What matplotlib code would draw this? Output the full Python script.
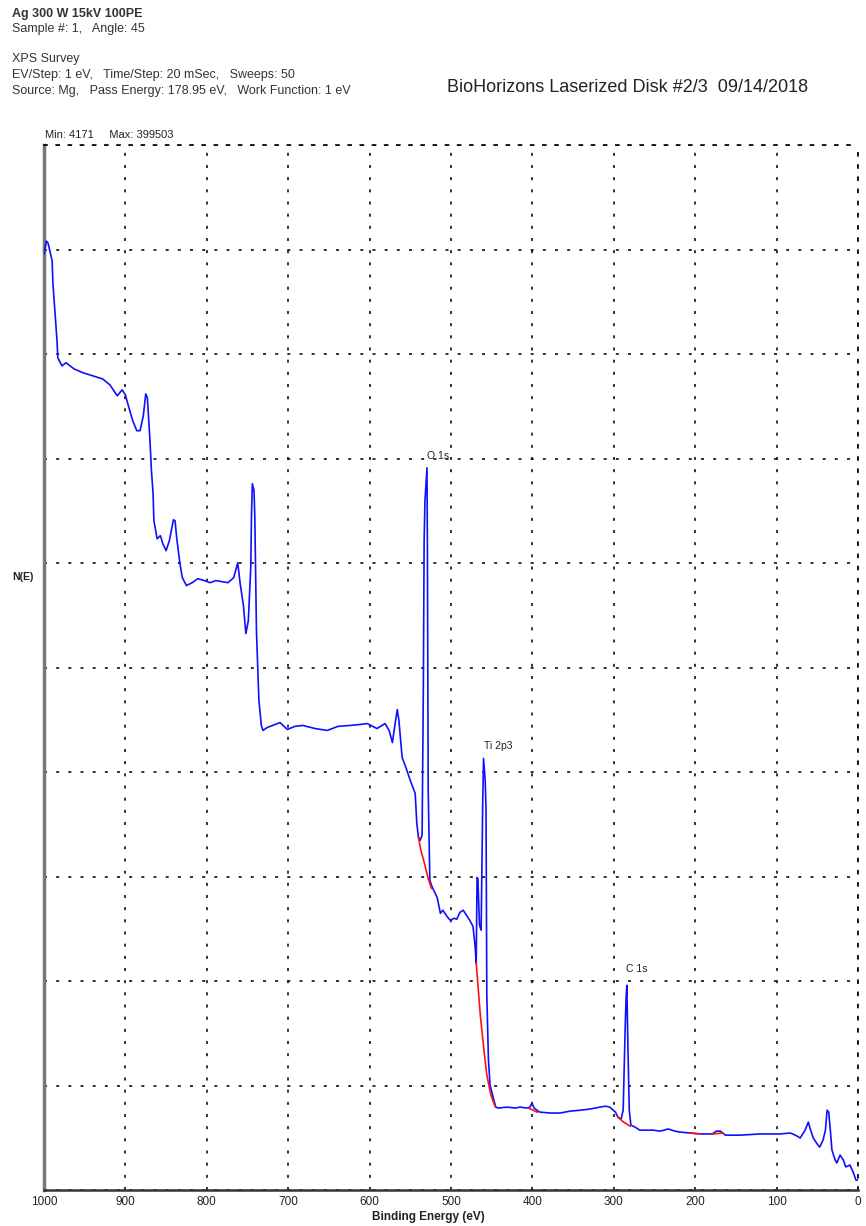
import matplotlib
matplotlib.use('Agg')
import numpy as np
import matplotlib.pyplot as plt

# survey spectrum (binding energy eV, counts)
energy = [1000, 997, 995, 990, 989, 986, 984, 983, 978, 973, 968, 963, 952, 940, 928, 919,
          910, 904, 900, 897, 891, 886, 882, 878, 875, 873, 870, 868, 866, 865, 861, 857,
          854, 850, 846, 841, 839, 837, 833, 830, 825, 818, 811, 803, 796, 789, 781, 774,
          767, 762, 759, 755, 752, 749, 746, 745, 744, 742, 741, 739, 736, 733, 731, 726,
          716, 710, 701, 692, 682, 667, 652, 639, 624, 612, 603, 591, 581, 576, 572, 569,
          566, 564, 560, 555, 550, 544, 542, 540, 538, 535.5, 534, 533, 532, 529.5, 529, 528,
          526, 523, 517, 513, 510, 505, 501, 496, 493, 489, 485, 481, 477, 473, 470.5, 469,
          468, 467, 465, 463, 461, 460, 458, 457, 456, 454, 452, 448, 445, 442, 431, 421,
          415, 407, 403, 400.5, 398, 391, 378, 366, 354, 341, 329, 317, 310, 305, 298, 295,
          291, 288.5, 286, 285, 284, 282.5, 281, 279, 274, 268, 258, 252, 243, 233, 225, 219,
          206, 194, 179, 174, 169, 163, 145, 120, 96, 83, 77, 71, 65, 61, 59, 55,
          50, 47, 43, 40, 38, 36, 34, 32, 28, 26, 22, 18, 15, 10, 6, 2.5, 0.5]
counts = [394100, 399500, 398700, 391200, 381500, 367200, 357500, 350400, 347000, 348300, 347000, 345700, 344100, 342800, 341500, 339000,
          334400, 336900, 334800, 331000, 323900, 319700, 319700, 326000, 335200, 333500, 316700, 302800, 293200, 281800, 274200, 275500,
          272100, 269200, 273400, 282200, 281800, 274600, 263700, 257800, 254500, 255700, 257400, 256600, 255700, 256600, 256100, 255700,
          257800, 264100, 255300, 246100, 234300, 239700, 262000, 286000, 297400, 294400, 283100, 235500, 206100, 195600, 193500, 194700,
          196000, 196800, 193900, 195200, 195600, 194300, 193500, 195200, 195600, 196000, 196400, 194300, 196400, 193500, 188400, 195600,
          202300, 197700, 182100, 177500, 172400, 167000, 154400, 148500, 147200, 149300, 210300, 273400, 290200, 304100, 271300, 168200,
          130400, 127400, 123200, 116500, 117800, 115200, 113600, 114400, 114000, 116900, 117800, 115700, 113600, 111000, 103000, 95500,
          131600, 131200, 111500, 109400, 164000, 181700, 172400, 161100, 82000, 54700, 44200, 38700, 34900, 34500, 34900, 34500,
          34900, 34500, 34900, 36600, 34500, 32800, 32400, 32400, 33200, 33600, 34100, 34900, 35300, 34900, 32800, 30700,
          29900, 33600, 68600, 79900, 86200, 57600, 33600, 27300, 26500, 25200, 25200, 25200, 24800, 25700, 24800, 24400,
          24000, 23600, 23600, 24800, 24800, 23100, 23100, 23600, 23600, 24000, 23100, 21900, 25200, 28600, 26100, 21900,
          19300, 18100, 21000, 25200, 33600, 32800, 25200, 16800, 12600, 11400, 14700, 12600, 9700, 10500, 7600, 4200, 4171]

# background (red) segments under the peaks
bg_energy = [[540, 537, 533, 528, 524],
             [469, 464, 459.5, 456, 451, 446],
             [405, 394],
             [295, 288, 280],
             [206, 194],
             [179, 166]]
bg_counts = [[148500, 143000, 138000, 131200, 127000],
             [95500, 73600, 58900, 48400, 40000, 35300],
             [34500, 32800],
             [30700, 28600, 26900],
             [24000, 23600],
             [23600, 24000]]

peak_names = ["O 1s", "Ti 2p3", "C 1s"]
peak_energy = [529.5, 459.5, 285]
peak_label_y = [309000, 187000, 93000]

header = ["Ag 300 W 15kV 100PE",
          "Sample #: 1,   Angle: 45",
          "",
          "XPS Survey",
          "EV/Step: 1 eV,   Time/Step: 20 mSec,   Sweeps: 50",
          "Source: Mg,   Pass Energy: 178.95 eV,   Work Function: 1 eV"]

W, H = 866, 1226
plt.rcParams['font.family'] = ['Liberation Sans', 'DejaVu Sans']

fig = plt.figure(figsize=(W / 100, H / 100), dpi=100)
ax = fig.add_axes([44 / W, 1 - 1190 / H, 814 / W, 1045 / H])

ax.plot(energy, counts, color='#1010ff', lw=1.2, zorder=3)
for e, c in zip(bg_energy, bg_counts):
    ax.plot(e, c, color='#ff1010', lw=1.2, zorder=4)

for name, e, y in zip(peak_names, peak_energy, peak_label_y):
    ax.text(e, y, name, fontsize=7.5, color='#222222', ha='left', va='center')

ax.set_xlim(1000, 0)
ax.set_ylim(0, 440000)
ax.set_xticks(range(1000, -1, -100))
ax.set_yticks(np.arange(0, 440001, 44000))
ax.set_yticklabels([])
ax.tick_params(axis='both', length=0)
ax.tick_params(axis='x', pad=4, labelsize=8.5, labelcolor='#222222')

dots = (0, (1.8, 5.5))
ax.grid(True, color='#111111', lw=1.2, linestyle=dots)
ax.spines['top'].set_linestyle(dots)
ax.spines['top'].set_linewidth(1.2)
ax.spines['right'].set_linestyle(dots)
ax.spines['right'].set_linewidth(1.2)
ax.spines['left'].set_color('#777777')
ax.spines['left'].set_linewidth(2.5)
ax.spines['bottom'].set_color('#333333')
ax.spines['bottom'].set_linewidth(1.8)

# header block
ys = [14, 29, 44, 59, 75, 91]
for i, line in enumerate(header):
    if line:
        fig.text(12 / W, 1 - ys[i] / H, line, fontsize=9, color='#333333',
                 va='center', weight='bold' if i == 0 else 'normal')

fig.text(447 / W, 1 - 88 / H, "BioHorizons Laserized Disk #2/3  09/14/2018", fontsize=13,
         color='#222222', va='center')
fig.text(45 / W, 1 - 135 / H, "Min: 4171     Max: 399503", fontsize=8,
         color='#222222', va='center')
fig.text(12 / W, 1 - 577 / H, "N(E)", fontsize=7.5, weight='bold',
         color='#222222', va='center')
fig.text(428 / W, 1 - 1217 / H, "Binding Energy (eV)", fontsize=8.5,
         weight='bold', color='#222222', va='center', ha='center')

fig.savefig('out.png', dpi=100)
